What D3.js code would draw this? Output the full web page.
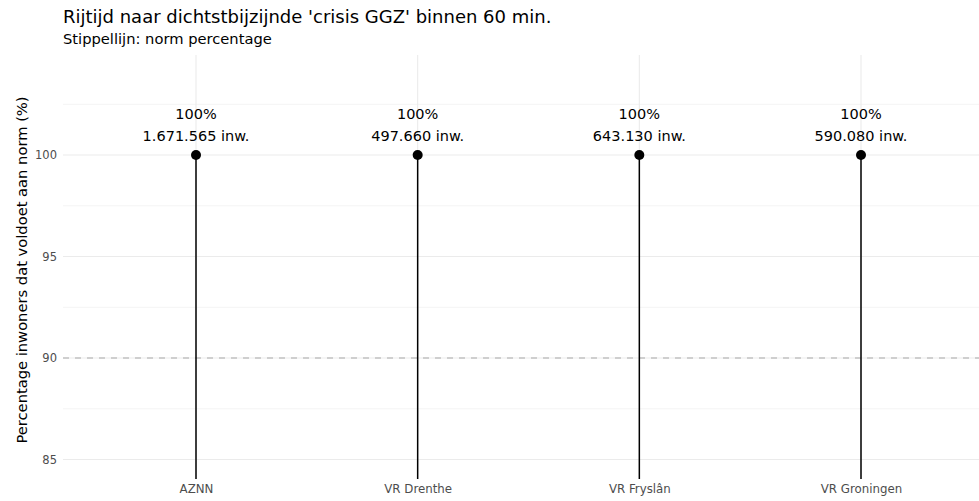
<!DOCTYPE html>
<html><head><meta charset="utf-8">
<script src="https://cdn.jsdelivr.net/npm/d3@7"></script>
<style>body{margin:0;background:#fff;font-family:"DejaVu Sans",sans-serif;}</style>
</head><body>
<svg id="c" width="979" height="501"></svg>
<script>
const categories = ["AZNN", "VR Drenthe", "VR Fryslân", "VR Groningen"];
const percentages = [100, 100, 100, 100];
const inhabitants = ["1.671.565", "497.660", "643.130", "590.080"];
const yTicks = [85, 90, 95, 100];
const yMinor = [87.5, 92.5, 97.5, 102.5];
const norm = 90;

const svg = d3.select("#c");
const pLeft = 63, pRight = 979, pTop = 55, pBottom = 479;
const x = d3.scalePoint().domain(categories).range([196, 861]);
const y = d3.scaleLinear().domain([84.04, 104.93]).range([pBottom, pTop]);

const g = svg.append("g");
g.selectAll(".ymin").data(yMinor).join("line")
  .attr("x1", pLeft).attr("x2", pRight).attr("y1", d => y(d)).attr("y2", d => y(d))
  .attr("stroke", "#f4f4f4").attr("stroke-width", 1);
g.selectAll(".ymaj").data(yTicks).join("line")
  .attr("x1", pLeft).attr("x2", pRight).attr("y1", d => y(d)).attr("y2", d => y(d))
  .attr("stroke", "#ebebeb").attr("stroke-width", 1.1);
g.selectAll(".xg").data(categories).join("line")
  .attr("x1", d => x(d)).attr("x2", d => x(d)).attr("y1", pTop).attr("y2", pBottom)
  .attr("stroke", "#ebebeb").attr("stroke-width", 1.1);

g.append("line").attr("x1", pLeft).attr("x2", pRight).attr("y1", y(norm)).attr("y2", y(norm))
  .attr("stroke", "#aaaaaa").attr("stroke-width", 1.1).attr("stroke-dasharray", "6,6");

const yAxis = d3.axisLeft(y).tickValues(yTicks).tickSize(0).tickPadding(0);
const ya = svg.append("g").attr("transform", `translate(${pLeft - 6},0)`).call(yAxis);
ya.select(".domain").remove();
ya.selectAll("text").attr("fill", "#4d4d4d").attr("font-size", 11.5).attr("font-family", "DejaVu Sans");

const xAxis = d3.axisBottom(x).tickSize(0).tickPadding(0);
const xa = svg.append("g").attr("transform", `translate(0,${pBottom + 6})`).call(xAxis);
xa.select(".domain").remove();
xa.selectAll("text").attr("fill", "#4d4d4d").attr("font-size", 11.8).attr("font-family", "DejaVu Sans");

const data = categories.map((c, i) => ({c, p: percentages[i], n: inhabitants[i]}));
g.selectAll(".stem").data(data).join("line")
  .attr("x1", d => x(d.c)).attr("x2", d => x(d.c)).attr("y1", pBottom).attr("y2", d => y(d.p))
  .attr("stroke", "#000").attr("stroke-width", 1.5);
g.selectAll(".pt").data(data).join("circle")
  .attr("cx", d => x(d.c)).attr("cy", d => y(d.p)).attr("r", 5).attr("fill", "#000");
g.selectAll(".l1").data(data).join("text")
  .attr("x", d => x(d.c)).attr("y", d => y(d.p) - 36).attr("text-anchor", "middle")
  .attr("font-size", 14.5).attr("fill", "#000").text(d => d.p + "%");
g.selectAll(".l2").data(data).join("text")
  .attr("x", d => x(d.c)).attr("y", d => y(d.p) - 14).attr("text-anchor", "middle")
  .attr("font-size", 14.5).attr("fill", "#000").text(d => d.n + " inw.");

svg.append("text").attr("x", 63).attr("y", 23).attr("font-size", 18).attr("fill", "#000")
  .text("Rijtijd naar dichtstbijzijnde 'crisis GGZ' binnen 60 min.");
svg.append("text").attr("x", 63).attr("y", 44).attr("font-size", 14.7).attr("fill", "#000")
  .text("Stippellijn: norm percentage");
svg.append("text").attr("transform", `translate(27,270) rotate(-90)`)
  .attr("text-anchor", "middle").attr("font-size", 14.7).attr("fill", "#000")
  .text("Percentage inwoners dat voldoet aan norm (%)");
</script>
</body></html>
